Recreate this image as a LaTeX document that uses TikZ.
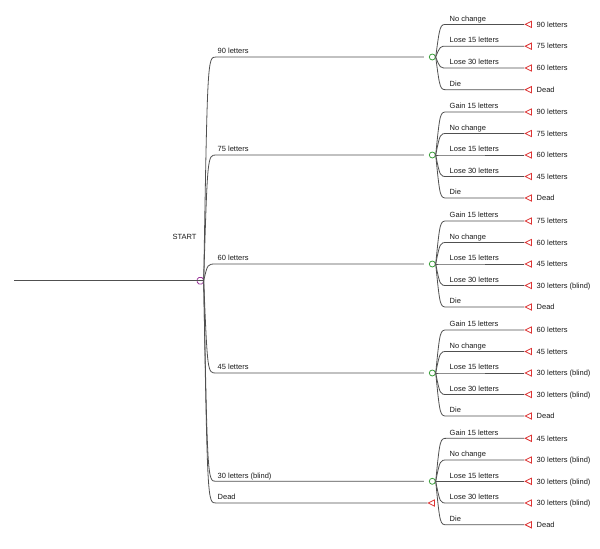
\documentclass[tikz,border=0pt]{standalone}
\usepackage{fontspec}
\setmainfont{Liberation Sans}
\usetikzlibrary{shapes.geometric}
\definecolor{lin}{HTML}{505050}
\definecolor{dec}{HTML}{993399}
\definecolor{chn}{HTML}{3DA03D}
\definecolor{ter}{HTML}{DD3333}
\definecolor{txt}{HTML}{1A1A1A}
\begin{document}
\begin{tikzpicture}[x=1pt,y=-1pt,
  branch/.style={draw=lin, line width=0.8pt},
  decnode/.style={draw=dec, rectangle, rounded corners=1.6pt, minimum width=6pt, minimum height=6.5pt, inner sep=0pt, line width=0.8pt},
  chnode/.style={draw=chn, circle, minimum size=6pt, inner sep=0pt, line width=0.8pt},
  ternode/.style={draw=ter, isosceles triangle, isosceles triangle stretches, shape border rotate=180, minimum width=6.2pt, minimum height=6.2pt, inner sep=0pt, line width=0.8pt},
  lbl/.style={font=\fontsize{7.5}{9}\selectfont, text=txt, inner sep=0pt, anchor=base west},
]
\useasboundingbox (0,0) rectangle (600,549);

% decision node and input
\node[decnode] (d) at (200.3,280.7) {};
\coordinate (in) at (14,280.7);
\draw[branch] (in) -- (d.east);
\node[lbl, anchor=center] (start) at (184.5,237) {START};

% chance nodes
\foreach \y [count=\i] in {57,155,264,373,481.3}
  \node[chnode] (c\i) at (432.3,\y) {};

% decision branches
\foreach \i/\y/\t in {1/57/90 letters, 2/155/75 letters, 3/264/60 letters, 4/373/45 letters, 5/481.3/{30 letters (blind)}} {
  \draw[branch] (d.east) .. controls (207.5,\y) .. (216,\y) -- ([xshift=-5pt]c\i.west);
  \node[lbl] (dl\i) at (217.5,\y-3.3) {\t};
}
\node[ternode] (td) at (432.6,503) {};
\draw[branch] (d.east) .. controls (207.5,503) .. (216,503) -- (td.apex);
\node[lbl] (dl6) at (217.5,503-3.3) {Dead};

% group 1
\foreach \y/\a/\b [count=\k] in {24.4/No change/90 letters, 46.2/Lose 15 letters/75 letters, 68/Lose 30 letters/60 letters, 89.7/Die/Dead} {
  \node[ternode] (t1\k) at (529.5,\y) {};
  \draw[branch] (c1.east) .. controls (440,\y) .. (447,\y) -- (t1\k.apex);
  \node[lbl] (a1\k) at (449.5,\y-3.3) {\a};
  \node[lbl] (b1\k) at (536.5,\y+2.7) {\b};
}
% group 2
\foreach \y/\a/\b [count=\k] in {112/Gain 15 letters/90 letters, 133.5/No change/75 letters, 155/Lose 15 letters/60 letters, 176.5/Lose 30 letters/45 letters, 198/Die/Dead} {
  \node[ternode] (t2\k) at (529.5,\y) {};
  \draw[branch] (c2.east) .. controls (440,\y) .. (447,\y) -- (t2\k.apex);
  \node[lbl] (a2\k) at (449.5,\y-3.3) {\a};
  \node[lbl] (b2\k) at (536.5,\y+2.7) {\b};
}
% group 3
\foreach \y/\a/\b [count=\k] in {221/Gain 15 letters/75 letters, 242.5/No change/60 letters, 264/Lose 15 letters/45 letters, 285.5/Lose 30 letters/{30 letters (blind)}, 307/Die/Dead} {
  \node[ternode] (t3\k) at (529.5,\y) {};
  \draw[branch] (c3.east) .. controls (440,\y) .. (447,\y) -- (t3\k.apex);
  \node[lbl] (a3\k) at (449.5,\y-3.3) {\a};
  \node[lbl] (b3\k) at (536.5,\y+2.7) {\b};
}
% group 4
\foreach \y/\a/\b [count=\k] in {330/Gain 15 letters/60 letters, 351.5/No change/45 letters, 373/Lose 15 letters/{30 letters (blind)}, 394.5/Lose 30 letters/{30 letters (blind)}, 416/Die/Dead} {
  \node[ternode] (t4\k) at (529.5,\y) {};
  \draw[branch] (c4.east) .. controls (440,\y) .. (447,\y) -- (t4\k.apex);
  \node[lbl] (a4\k) at (449.5,\y-3.3) {\a};
  \node[lbl] (b4\k) at (536.5,\y+2.7) {\b};
}
% group 5
\foreach \y/\a/\b [count=\k] in {438.3/Gain 15 letters/45 letters, 460/No change/{30 letters (blind)}, 481.3/Lose 15 letters/{30 letters (blind)}, 503/Lose 30 letters/{30 letters (blind)}, 524.8/Die/Dead} {
  \node[ternode] (t5\k) at (529.5,\y) {};
  \draw[branch] (c5.east) .. controls (440,\y) .. (447,\y) -- (t5\k.apex);
  \node[lbl] (a5\k) at (449.5,\y-3.3) {\a};
  \node[lbl] (b5\k) at (536.5,\y+2.7) {\b};
}
\end{tikzpicture}
\end{document}
